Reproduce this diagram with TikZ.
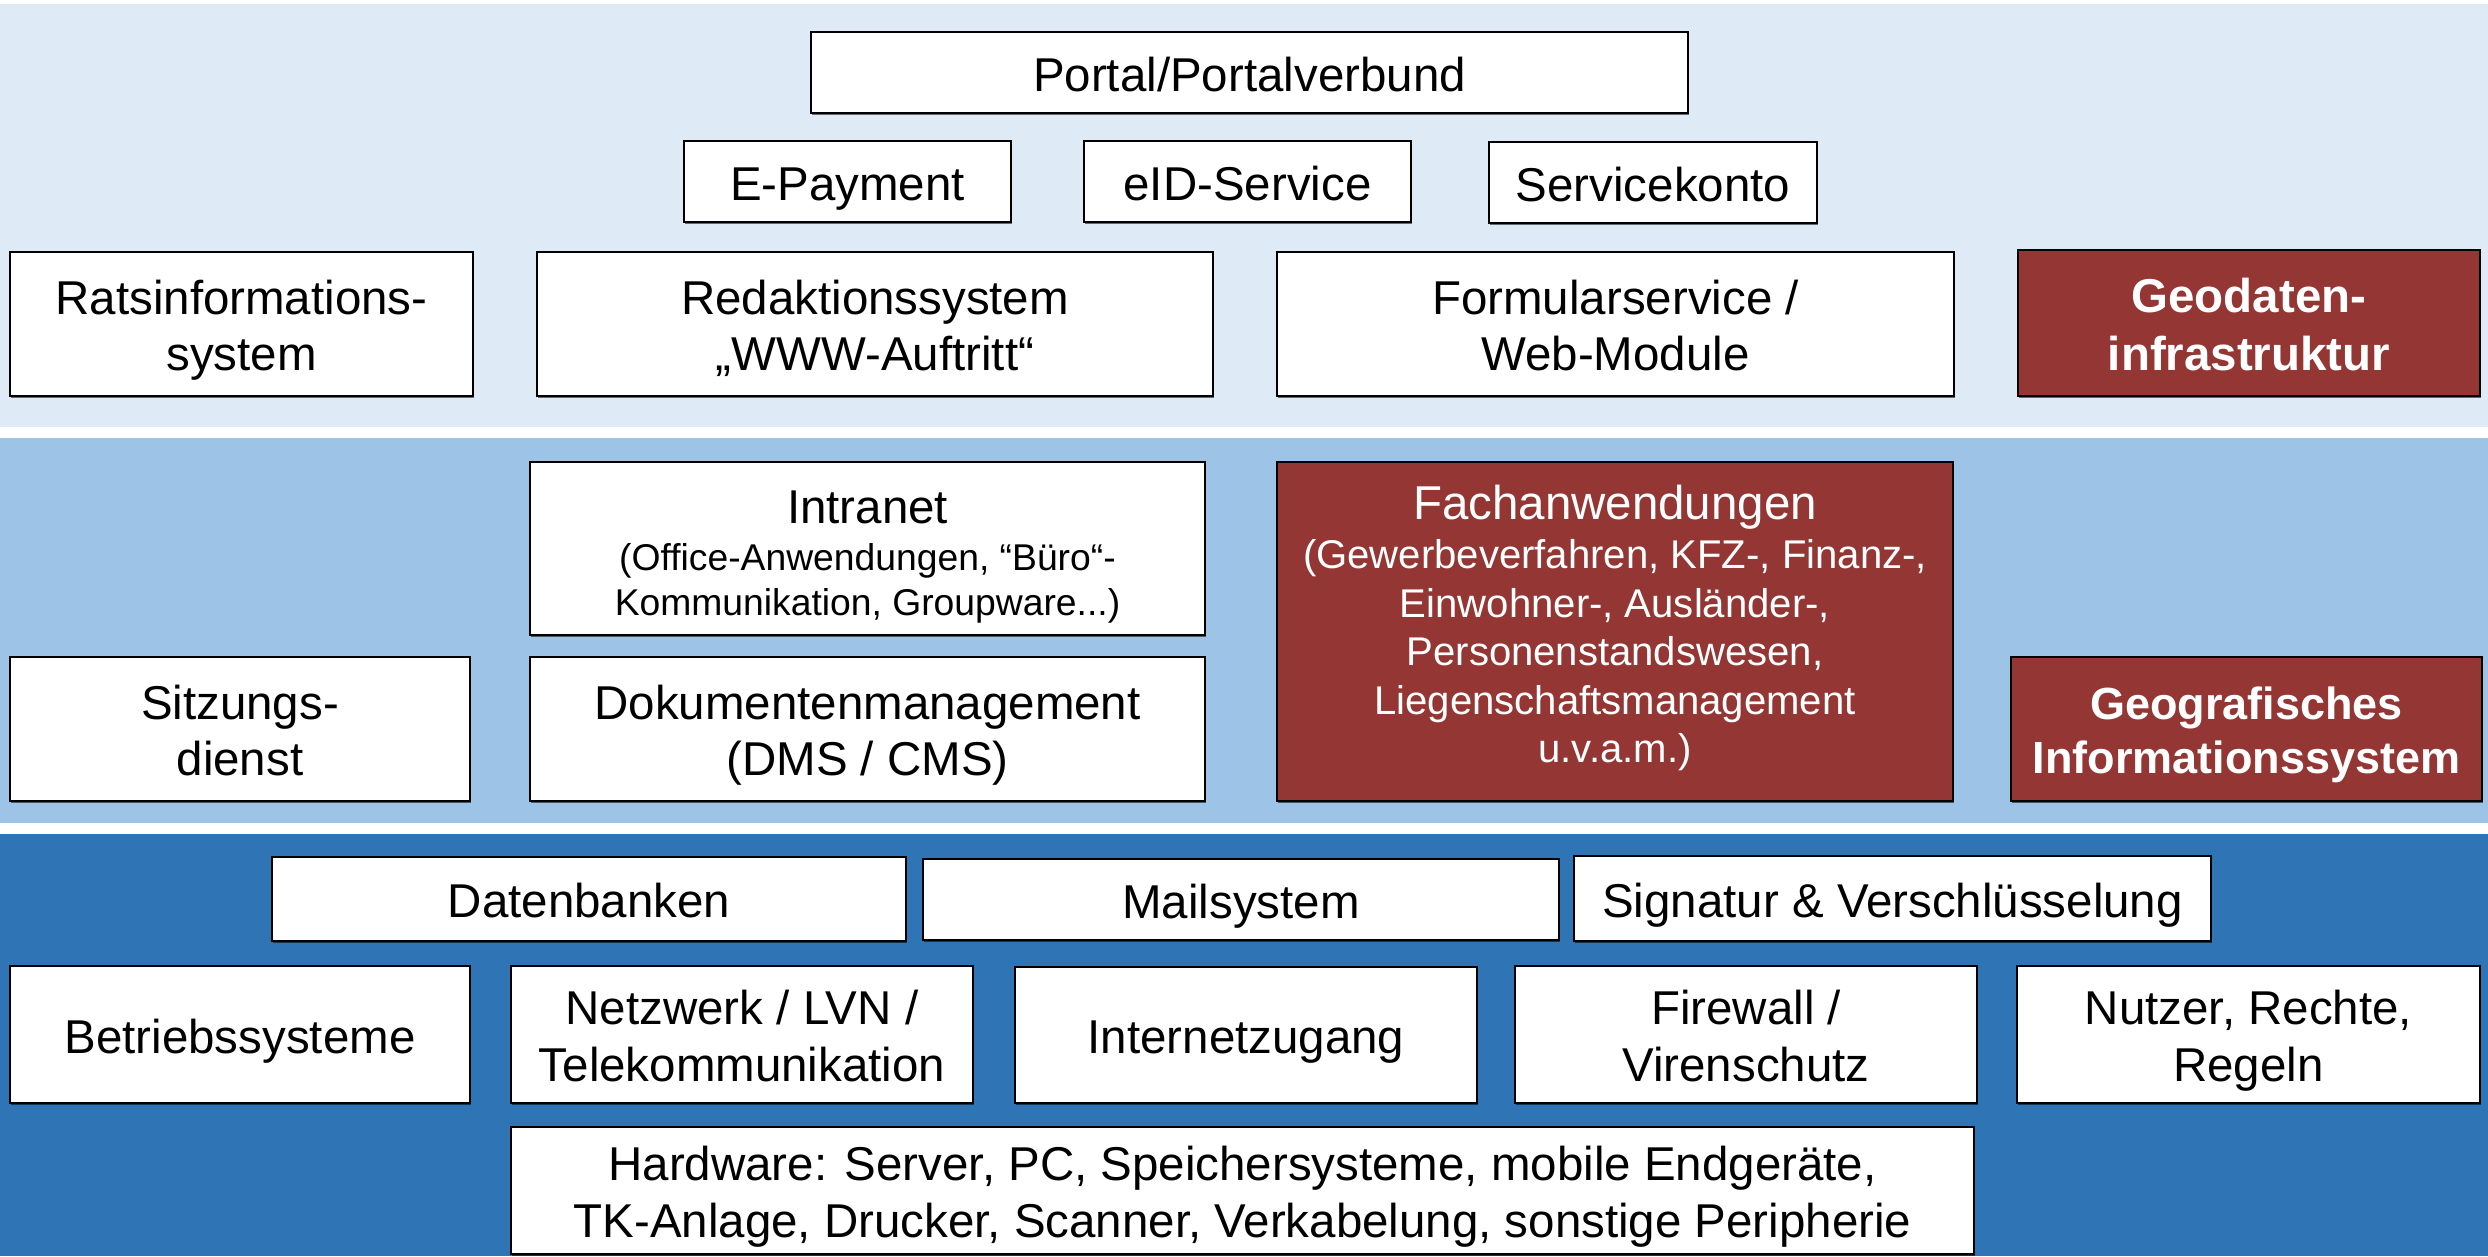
\documentclass[tikz,border=0pt]{standalone}
\usepackage{fontspec}
\setmainfont{Liberation Sans}
\usetikzlibrary{shadows}
\definecolor{bandA}{HTML}{DEEAF6}
\definecolor{bandB}{HTML}{9DC3E6}
\definecolor{bandC}{HTML}{2F75B5}
\definecolor{darkred}{HTML}{943634}
\newcommand{\mytopstrut}{\rule[-0.212em]{0pt}{1.217em}}
\newcommand{\mlS}{\rule{0pt}{0.99em}}
\newcommand{\mybotstrut}{\rule[-0.212em]{0pt}{1em}}
\tikzset{
  basebox/.style={draw=black, line width=0.6pt, inner sep=0pt, align=center,
    font=\fontsize{13.5}{16.2}\selectfont,
    execute at begin node={\mytopstrut}, execute at end node={\mybotstrut},
    drop shadow={shadow xshift=0.3pt, shadow yshift=-0.6pt, fill=black, opacity=0.55}},
  wbox/.style={basebox, fill=white, text=black},
  rbox/.style={basebox, fill=darkred, text=white}
}
\newcommand{\mkbox}[7]{\node[#1, minimum width={(#5-#3)*0.01cm}, minimum height={(#6-#4)*0.01cm}] (#2) at ({(#3+#5)/2},{(#4+#6)/2}) {#7};}
\newcommand{\bigtxt}{\fontsize{13.5}{16.2}\selectfont}
\begin{document}
\begin{tikzpicture}[x=0.01cm,y=-0.01cm]
\useasboundingbox (0,0) rectangle (2488,1256);
\fill[white] (0,0) rectangle (2488,1256);
% bands
\fill[bandA] (0,4) rectangle (2488,427);
\fill[bandB] (0,438) rectangle (2488,823);
\fill[bandC] (0,834) rectangle (2488,1256);
% top layer
\mkbox{wbox}{portal}{811}{32}{1688}{113}{Portal/Portalverbund}
\mkbox{wbox}{epay}{684}{141}{1011}{222}{E-Payment}
\mkbox{wbox}{eid}{1084}{141}{1411}{222}{eID-Service}
\mkbox{wbox}{skonto}{1489}{142}{1817}{223}{Servicekonto}
\mkbox{wbox}{rats}{10}{252}{473}{396}{\mlS Ratsinformations-\\system}
\mkbox{wbox}{redak}{537}{252}{1213}{396}{\mlS Redaktionssystem\\„WWW-Auftritt“}
\mkbox{wbox}{formular}{1277}{252}{1954}{396}{\mlS Formularservice /\\Web-Module}
\mkbox{rbox,font=\fontsize{13.5}{16.4}\selectfont\bfseries}{geodaten}{2018}{250}{2480}{396}{\mlS Geodaten-\\infrastruktur}
% middle layer
\mkbox{wbox,font=\fontsize{10.6}{12.6}\selectfont}{intranet}{530}{462}{1205}{635}{{\bigtxt\rule{0pt}{14pt}Intranet}\\[1pt](Office-Anwendungen, “Büro“-\\Kommunikation, Groupware...)}
\mkbox{wbox}{sitzung}{10}{657}{470}{801}{\mlS Sitzungs-\\dienst}
\mkbox{wbox}{dms}{530}{657}{1205}{801}{\mlS Dokumentenmanagement\\(DMS / CMS)}
\mkbox{rbox,font=\fontsize{11.4}{13.8}\selectfont}{fach}{1277}{462}{1953}{801}{{\bigtxt\rule[-0.212em]{0pt}{1.117em}Fachanwendungen}\\[0.3pt](Gewerbeverfahren, KFZ-, Finanz-,\\Einwohner-, Ausländer-,\\Personenstandswesen,\\Liegenschaftsmanagement\\u.v.a.m.)\rule[-6.8pt]{0pt}{1pt}}
\mkbox{rbox,font=\fontsize{12.8}{15.4}\selectfont\bfseries}{gis}{2011}{657}{2482}{801}{\mlS Geografisches\\Informationssystem}
% bottom layer
\mkbox{wbox}{db}{272}{857}{906}{941}{Datenbanken}
\mkbox{wbox}{mail}{923}{859}{1559}{940}{Mailsystem}
\mkbox{wbox}{sig}{1574}{856}{2211}{941}{Signatur \& Verschlüsselung}
\mkbox{wbox}{betrieb}{10}{966}{470}{1103}{Betriebssysteme}
\mkbox{wbox}{netz}{511}{966}{973}{1103}{\mlS Netzwerk / LVN /\\Telekommunikation}
\mkbox{wbox}{inet}{1015}{967}{1477}{1103}{Internetzugang}
\mkbox{wbox}{fw}{1515}{966}{1977}{1103}{\mlS Firewall /\\Virenschutz}
\mkbox{wbox}{nutzer}{2017}{966}{2480}{1103}{\mlS Nutzer, Rechte,\\Regeln}
\mkbox{wbox}{hw}{511}{1127}{1974}{1254}{\mlS Hardware: Server, PC, Speichersysteme, mobile Endgeräte,\\TK-Anlage, Drucker, Scanner, Verkabelung, sonstige Peripherie}
\end{tikzpicture}
\end{document}
